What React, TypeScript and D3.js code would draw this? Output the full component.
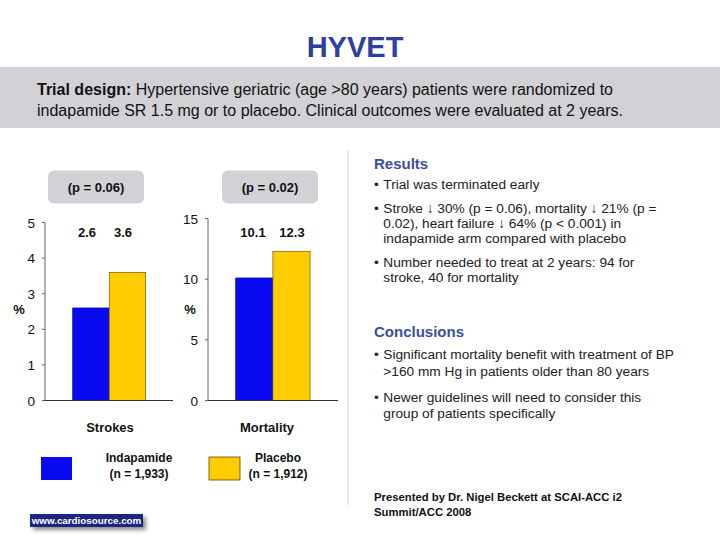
import React from "react";
import * as d3 from "d3";

const groups = ["Indapamide", "Placebo"];
const groupN = ["(n = 1,933)", "(n = 1,912)"];
const strokesValues = [2.6, 3.6];
const mortalityValues = [10.1, 12.3];
const strokesTicks = [0, 1, 2, 3, 4, 5];
const mortalityTicks = [0, 5, 10, 15];
const pValues = ["(p = 0.06)", "(p = 0.02)"];
const chartTitles = ["Strokes", "Mortality"];
const colors = ["#0a0af2", "#ffcc00"];
const edgeColors = ["#0000a0", "#5a4800"];

const resultsLines = [
  { bullet: true, text: "Trial was terminated early", y: 189 },
  { bullet: true, text: "Stroke \u2193 30% (p = 0.06), mortality \u2193 21% (p =", y: 213 },
  { bullet: false, text: "0.02), heart failure \u2193 64% (p < 0.001) in", y: 228 },
  { bullet: false, text: "indapamide arm compared with placebo", y: 243 },
  { bullet: true, text: "Number needed to treat at 2 years: 94 for", y: 266.5 },
  { bullet: false, text: "stroke, 40 for mortality", y: 281.5 },
];
const conclusionLines = [
  { bullet: true, text: "Significant mortality benefit with treatment of BP", y: 359 },
  { bullet: false, text: ">160 mm Hg in patients older than 80 years", y: 376 },
  { bullet: true, text: "Newer guidelines will need to consider this", y: 401.5 },
  { bullet: false, text: "group of patients specifically", y: 418 },
];

const FONT = "Liberation Sans, Arial, Helvetica, sans-serif";

type ChartProps = {
  values: number[];
  ticks: number[];
  max: number;
  axisX: number;
  axisEnd: number;
  yTop: number;
  barX0: number;
  barW: number;
  title: string;
  pText: string;
  pBox: [number, number];
  valueXs: number[];
  pctX: number;
  titleX: number;
};

function BarChart(p: ChartProps) {
  const y = d3.scaleLinear().domain([0, p.max]).range([400.5, p.yTop]);
  const x = d3
    .scaleBand<string>()
    .domain(groups)
    .range([p.barX0, p.barX0 + p.barW * 2])
    .paddingInner(0)
    .paddingOuter(0);
  return (
    <g fontFamily={FONT}>
      <rect x={p.pBox[0]} y={170.5} width={p.pBox[1] - p.pBox[0]} height={33} rx={6} fill="#d2d2d6" />
      <text x={(p.pBox[0] + p.pBox[1]) / 2} y={192} textAnchor="middle" fontSize={13} fontWeight="bold" fill="#111">
        {p.pText}
      </text>
      {p.values.map((v, i) => (
        <rect
          key={i}
          x={x(groups[i])}
          y={y(v)}
          width={x.bandwidth()}
          height={y(0) - y(v)}
          fill={colors[i]}
          stroke={edgeColors[i]}
          strokeWidth={0.6}
        />
      ))}
      <line x1={p.axisX} x2={p.axisX} y1={y(p.max)} y2={y(0)} stroke="#666" strokeWidth={1} />
      <line x1={p.axisX} x2={p.axisEnd} y1={y(0)} y2={y(0)} stroke="#333" strokeWidth={1} />
      {p.ticks.map((t) => (
        <g key={t}>
          <line x1={p.axisX - 3} x2={p.axisX} y1={y(t)} y2={y(t)} stroke="#666" />
          <text x={p.axisX - 10} y={y(t) + 5} textAnchor="end" fontSize={13.5} fill="#111">
            {t}
          </text>
        </g>
      ))}
      {p.values.map((v, i) => (
        <text key={i} x={p.valueXs[i]} y={236.5} textAnchor="middle" fontSize={13} fontWeight="bold" fill="#111">
          {v.toFixed(1)}
        </text>
      ))}
      <text x={p.pctX} y={314} textAnchor="middle" fontSize={13} fontWeight="bold" fill="#111">
        %
      </text>
      <text x={p.titleX} y={431.5} textAnchor="middle" fontSize={13} fontWeight="bold" fill="#111">
        {p.title}
      </text>
    </g>
  );
}

export default function App() {
  return (
    <svg width={720} height={540} style={{ position: "absolute", left: 0, top: 0, background: "#fff" }}>
      <defs>
        <filter id="shadow" x="-10%" y="-50%" width="130%" height="250%">
          <feDropShadow dx="3" dy="3" stdDeviation="2" floodColor="#000" floodOpacity="0.45" />
        </filter>
      </defs>
      <rect x={0} y={0} width={720} height={540} fill="#fff" />
      <text x={355} y={56.5} textAnchor="middle" fontFamily={FONT} fontSize={29} fontWeight="bold" fill="#2f3f9c">
        HYVET
      </text>
      <rect x={0} y={67} width={720} height={61} fill="#d1d1d6" />
      <text x={37} y={95} fontFamily={FONT} fontSize={16} fill="#111" textLength={576} lengthAdjust="spacingAndGlyphs">
        <tspan fontWeight="bold">Trial design:</tspan> Hypertensive geriatric (age {">"}80 years) patients were randomized to
      </text>
      <text x={37} y={116} fontFamily={FONT} fontSize={16} fill="#111" textLength={586} lengthAdjust="spacingAndGlyphs">
        indapamide SR 1.5 mg or to placebo. Clinical outcomes were evaluated at 2 years.
      </text>

      <line x1={348} x2={348} y1={150} y2={505} stroke="#e2e2e2" strokeWidth={1.5} />

      <BarChart
        values={strokesValues}
        ticks={strokesTicks}
        max={5}
        axisX={45}
        axisEnd={173}
        yTop={222.5}
        barX0={72.7}
        barW={36.5}
        title={chartTitles[0]}
        pText={pValues[0]}
        pBox={[48, 144]}
        valueXs={[87, 123]}
        pctX={19}
        titleX={110}
      />
      <BarChart
        values={mortalityValues}
        ticks={mortalityTicks}
        max={15}
        axisX={208}
        axisEnd={338}
        yTop={218.5}
        barX0={235.7}
        barW={37.2}
        title={chartTitles[1]}
        pText={pValues[1]}
        pBox={[222, 318]}
        valueXs={[253, 292]}
        pctX={190}
        titleX={267}
      />

      {/* Legend */}
      <g fontFamily={FONT}>
        {groups.map((g, i) => {
          const sx = i === 0 ? 41 : 209;
          const tx = i === 0 ? 139 : 278;
          return (
            <g key={g}>
              <rect x={sx} y={457} width={31} height={23} fill={colors[i]} stroke={i === 1 ? "#5a4800" : "none"} strokeWidth={0.8} />
              <text x={tx} y={461.5} textAnchor="middle" fontSize={12} fontWeight="bold" fill="#111">
                {g}
              </text>
              <text x={tx} y={477.5} textAnchor="middle" fontSize={12} fontWeight="bold" fill="#111">
                {groupN[i]}
              </text>
            </g>
          );
        })}
      </g>

      {/* Right column */}
      <g fontFamily={FONT}>
        <text x={374} y={169} fontSize={15} fontWeight="bold" fill="#3b4ea0">
          Results
        </text>
        {resultsLines.map((l, i) => (
          <g key={i}>
            {l.bullet && (
              <text x={374} y={l.y} fontSize={13.7} fill="#222">
                •
              </text>
            )}
            <text x={383.3} y={l.y} fontSize={13.7} fill="#222">
              {l.text}
            </text>
          </g>
        ))}
        <text x={374} y={337} fontSize={15} fontWeight="bold" fill="#3b4ea0">
          Conclusions
        </text>
        {conclusionLines.map((l, i) => (
          <g key={i}>
            {l.bullet && (
              <text x={374} y={l.y} fontSize={13.7} fill="#222">
                •
              </text>
            )}
            <text x={383.3} y={l.y} fontSize={13.7} fill="#222">
              {l.text}
            </text>
          </g>
        ))}
        <text x={374} y={501} fontSize={11.3} fontWeight="bold" fill="#111">
          Presented by Dr. Nigel Beckett at SCAI-ACC i2
        </text>
        <text x={374} y={515.5} fontSize={11.3} fontWeight="bold" fill="#111">
          Summit/ACC 2008
        </text>
      </g>

      {/* cardiosource badge */}
      <rect x={30} y={514} width={113} height={13} fill="#1c2580" filter="url(#shadow)" />
      <text x={86.5} y={524.3} textAnchor="middle" fontFamily={FONT} fontSize={9.8} fontWeight="bold" fill="#fff">
        www.cardiosource.com
      </text>
    </svg>
  );
}
